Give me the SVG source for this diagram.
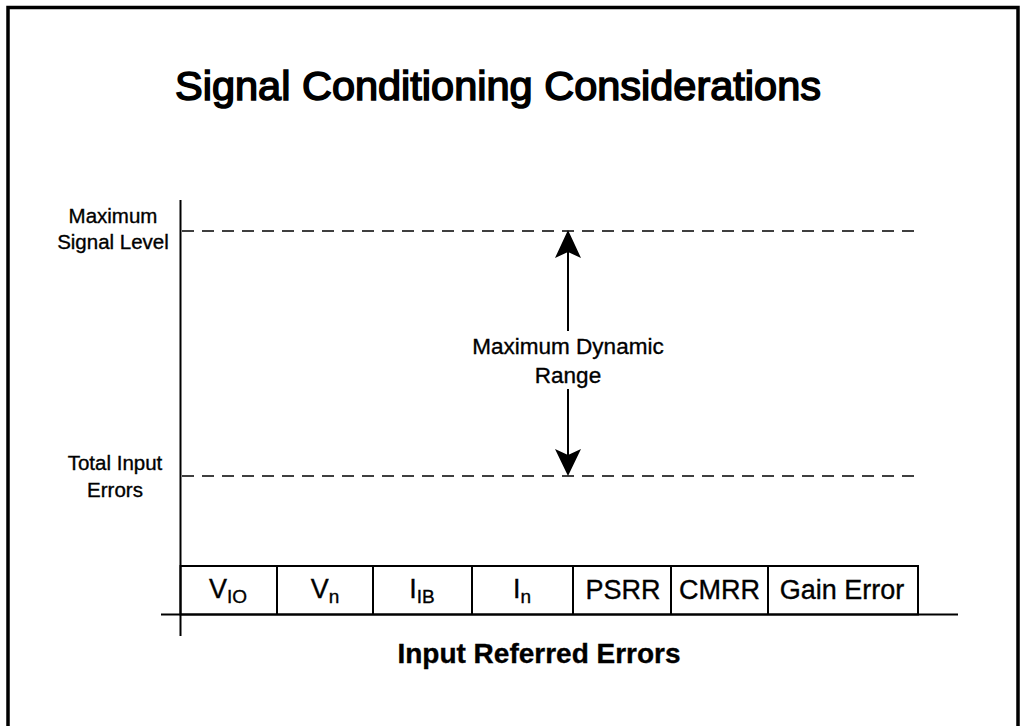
<svg xmlns="http://www.w3.org/2000/svg" width="1023" height="726" viewBox="0 0 1023 726">
  <defs>
    <style>
      .t { font-family: "Liberation Sans", Arial, sans-serif; fill: #000; stroke: #000; stroke-width: 0.35; }
      .title { font-size: 41.5px; stroke-width: 1.6; text-anchor: middle; }
      .lbl { font-size: 20.5px; text-anchor: middle; }
      .cell { font-size: 27px; text-anchor: middle; }
      .sub { font-size: 19px; }
      .dash { stroke: #000; stroke-width: 1.6; stroke-dasharray: 12 8; fill: none; }
      .ln { stroke: #000; stroke-width: 2; fill: none; }
    </style>
  </defs>

  <rect width="1023" height="726" fill="#fff"/>

  <!-- outer frame -->
  <path d="M8,740 V7.5 H1018 V740" fill="none" stroke="#000" stroke-width="3.5"/>

  <!-- title -->
  <text class="t title" x="498" y="100">Signal Conditioning Considerations</text>

  <!-- axes -->
  <g id="axes">
    <line class="ln" x1="180.5" y1="200" x2="180.5" y2="636"/>
    <line class="ln" x1="161" y1="614.5" x2="958" y2="614.5"/>
  </g>

  <!-- level labels -->
  <g id="max-level">
    <text class="t lbl" x="113" y="223">Maximum</text>
    <text class="t lbl" x="113" y="249">Signal Level</text>
  </g>
  <g id="total-errors">
    <text class="t lbl" x="115" y="470">Total Input</text>
    <text class="t lbl" x="115" y="497">Errors</text>
  </g>

  <!-- dynamic range label -->
  <g id="dynamic-range">
    <text class="t" x="568" y="354" font-size="22.5" text-anchor="middle">Maximum Dynamic</text>
    <text class="t" x="568" y="383" font-size="22.5" text-anchor="middle">Range</text>
  </g>

  <!-- connectors -->
  <g id="connectors">
    <line class="dash" x1="182" y1="231" x2="922" y2="231"/>
    <line class="dash" x1="182" y1="476" x2="922" y2="476"/>
    <line class="ln" x1="568" y1="331" x2="568" y2="240"/>
    <path d="M568,230 L581,258 L568,252 L555,258 Z" fill="#000"/>
    <line class="ln" x1="568" y1="389" x2="568" y2="466"/>
    <path d="M568,476 L581,449 L568,455 L555,449 Z" fill="#000"/>
  </g>

  <!-- error budget cells -->
  <g id="error-cells">
    <rect class="ln" x="180.5" y="566" width="737.5" height="48.5"/>
    <line class="ln" x1="277" y1="566" x2="277" y2="614"/>
    <line class="ln" x1="373" y1="566" x2="373" y2="614"/>
    <line class="ln" x1="472" y1="566" x2="472" y2="614"/>
    <line class="ln" x1="573" y1="566" x2="573" y2="614"/>
    <line class="ln" x1="671" y1="566" x2="671" y2="614"/>
    <line class="ln" x1="768" y1="566" x2="768" y2="614"/>
  </g>
  <g id="cell-vio"><text class="t cell" x="228" y="598">V<tspan class="sub" dy="5">IO</tspan></text></g>
  <g id="cell-vn"><text class="t cell" x="325" y="598">V<tspan class="sub" dy="5">n</tspan></text></g>
  <g id="cell-iib"><text class="t cell" x="422" y="598">I<tspan class="sub" dy="5">IB</tspan></text></g>
  <g id="cell-in"><text class="t cell" x="522" y="598">I<tspan class="sub" dy="5">n</tspan></text></g>
  <g id="cell-psrr"><text class="t cell" x="623" y="599">PSRR</text></g>
  <g id="cell-cmrr"><text class="t cell" x="719.5" y="599">CMRR</text></g>
  <g id="cell-gain"><text class="t cell" x="842" y="599">Gain Error</text></g>

  <!-- axis caption -->
  <text class="t" x="539" y="663" font-size="28" font-weight="bold" text-anchor="middle">Input Referred Errors</text>
</svg>
